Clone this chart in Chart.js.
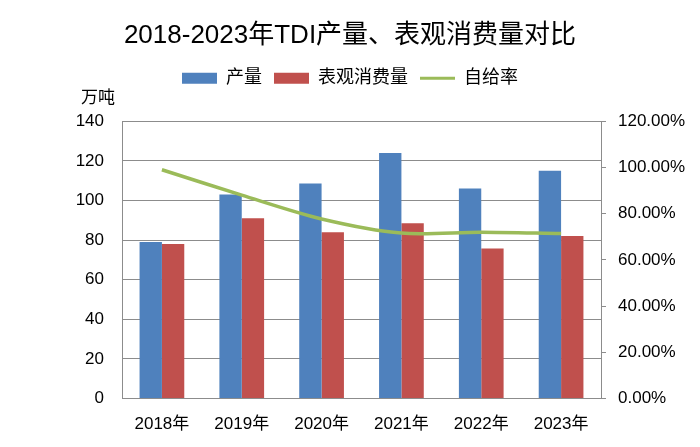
<!DOCTYPE html>
<html>
<head>
<meta charset="utf-8">
<script src="https://cdn.jsdelivr.net/npm/chart.js@4/dist/chart.umd.min.js"></script>
<style>
  html, body { margin: 0; padding: 0; background: #fff; }
  #wrap { width: 700px; height: 447px; }
</style>
</head>
<body>
<div id="wrap"><canvas id="c"></canvas></div>
<script>
// 数据
const years      = ['2018年', '2019年', '2020年', '2021年', '2022年', '2023年'];
const chanliang  = [79, 103, 108.5, 124, 106, 115];     // 产量（万吨）
const xiaofei    = [78, 91, 84, 88.5, 75.8, 82];        // 表观消费量（万吨）
const zigeilv    = [99, 88, 77.7, 71.6, 72, 71.4];      // 自给率（%）

const FONT = "'Liberation Sans', 'Noto Sans CJK SC', sans-serif";
const GRID = '#8c8c8c';

// 左上角单位 “万吨”
const unitLabel = {
  id: 'unitLabel',
  afterDraw(chart) {
    const y = chart.scales.y;
    const ctx = chart.ctx;
    ctx.save();
    ctx.font = "17px " + FONT;
    ctx.fillStyle = '#000';
    ctx.textAlign = 'center';
    ctx.textBaseline = 'middle';
    ctx.fillText('万吨', y.right - 24, y.top - 23);
    ctx.restore();
  }
};

// 图例下方留出空白
const legendGap = {
  id: 'legendGap',
  beforeInit(chart) {
    const fit = chart.legend.fit;
    chart.legend.fit = function () {
      fit.bind(chart.legend)();
      this.height += 24;
    };
  }
};

new Chart(document.getElementById('c'), {
  data: {
    labels: years,
    datasets: [
      {
        type: 'bar',
        label: '产量',
        data: chanliang,
        backgroundColor: '#4F81BD',
        yAxisID: 'y',
        order: 1,
        barPercentage: 1,
        categoryPercentage: 0.56,
      },
      {
        type: 'bar',
        label: '表观消费量',
        data: xiaofei,
        backgroundColor: '#C0504D',
        yAxisID: 'y',
        order: 1,
        barPercentage: 1,
        categoryPercentage: 0.56,
      },
      {
        type: 'line',
        label: '自给率',
        data: zigeilv,
        borderColor: '#9BBB59',
        backgroundColor: '#9BBB59',
        borderWidth: 3.5,
        pointRadius: 0,
        tension: 0.3,
        yAxisID: 'y1',
        order: 0,
      }
    ]
  },
  options: {
    responsive: true,
    maintainAspectRatio: false,
    animation: false,
    layout: { padding: { left: 8, right: 8, top: 20, bottom: 4 } },
    plugins: {
      title: {
        display: true,
        text: '2018-2023年TDI产量、表观消费量对比',
        color: '#000',
        font: { family: FONT, size: 26, weight: 'normal' },
        padding: { top: 0, bottom: 6 }
      },
      legend: {
        position: 'top',
        labels: {
          color: '#000',
          font: { family: FONT, size: 18 },
          usePointStyle: true,
          pointStyleWidth: 35,
          boxHeight: 11,
          padding: 12,
          sort: (a, b) => a.datasetIndex - b.datasetIndex,
          generateLabels(chart) {
            return chart.data.datasets.map((ds, i) => ({
              text: ds.label,
              fillStyle: ds.backgroundColor,
              strokeStyle: ds.type === 'line' ? ds.borderColor : ds.backgroundColor,
              lineWidth: ds.type === 'line' ? 3 : 0,
              pointStyle: ds.type === 'line' ? 'line' : 'rect',
              fontColor: '#000',
              datasetIndex: i,
              hidden: false
            }));
          }
        }
      },
      tooltip: { enabled: false }
    },
    scales: {
      x: {
        grid: { display: false },
        border: { color: GRID },
        ticks: { color: '#000', font: { family: FONT, size: 17 }, padding: 8 }
      },
      y: {
        position: 'left',
        min: 0,
        max: 140,
        afterFit: s => { s.width = 114; },
        ticks: { stepSize: 20, color: '#000', font: { family: FONT, size: 17 }, padding: 18 },
        grid: { color: GRID, drawTicks: false },
        border: { color: GRID }
      },
      y1: {
        position: 'right',
        min: 0,
        max: 120,
        afterFit: s => { s.width = 91; },
        ticks: {
          stepSize: 20,
          color: '#000',
          font: { family: FONT, size: 17 },
          padding: 12,
          callback: v => v.toFixed(2) + '%'
        },
        grid: { drawOnChartArea: false, drawTicks: true, tickLength: 5, tickColor: GRID },
        border: { color: GRID }
      }
    }
  },
  plugins: [unitLabel, legendGap]
});
</script>
</body>
</html>
